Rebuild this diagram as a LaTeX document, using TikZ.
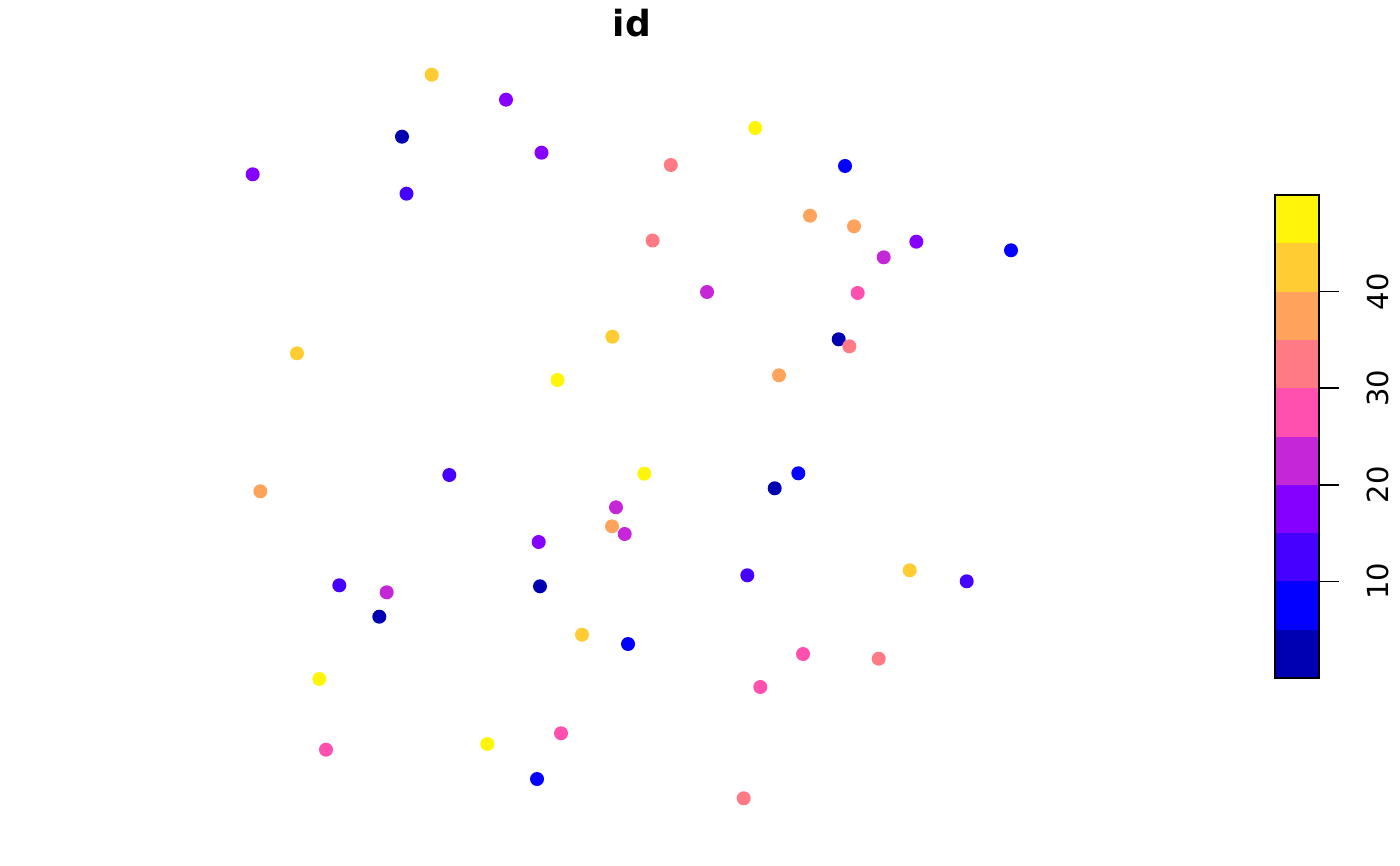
\documentclass[tikz,border=0pt]{standalone}
\usepackage{fontspec}
\setmainfont{DejaVu Sans}
\usepackage{tikz}
\definecolor{CNavy}{HTML}{0000B3}
\definecolor{CBlue}{HTML}{0400FF}
\definecolor{CIndigo}{HTML}{4500FF}
\definecolor{CPurple}{HTML}{8500FF}
\definecolor{CMagenta}{HTML}{C527D8}
\definecolor{CPink}{HTML}{FF50AF}
\definecolor{CSalmon}{HTML}{FF7A85}
\definecolor{COrange}{HTML}{FFA35C}
\definecolor{CGold}{HTML}{FFCC33}
\definecolor{CYellow}{HTML}{FFF50A}

\begin{document}
\begin{tikzpicture}[
    x=1pt, y=-1pt,
    pt/.style={fill=#1},
    ticklabel/.style={rotate=90, anchor=base, font=\fontsize{29}{32}\selectfont},
    title/.style={anchor=base, font=\fontsize{36}{40}\selectfont\bfseries}
]
  \useasboundingbox (0,0) rectangle (1400,866);
  \node[title] (title) at (632,37) {id};
  % points
  \foreach \px/\py/\c in {
      431.7/74.7/CGold, 506/99.7/CPurple, 402/136.7/CNavy, 541.5/152.7/CPurple,
      755.2/128/CYellow, 670.8/165/CSalmon, 845/166/CBlue, 252.7/174.3/CPurple,
      406.5/193.7/CIndigo, 810/215.7/COrange, 854/226.3/COrange, 652.6/240.5/CSalmon,
      916.3/241.7/CPurple, 1011/250.3/CBlue, 883.7/257.3/CMagenta, 707/292/CMagenta,
      857.7/293/CPink, 612.3/336.7/CGold, 838.7/339.3/CNavy, 849.3/346.3/CSalmon,
      297/353.3/CGold, 557.5/380/CYellow, 779/375.3/COrange, 449.3/475/CIndigo,
      644.3/473.7/CYellow, 798.3/473.3/CBlue, 774.7/488.3/CNavy, 260.3/491.3/COrange,
      616/507.3/CMagenta, 612/526.3/COrange, 624.7/534/CMagenta, 538.7/542/CPurple,
      747.3/575.3/CIndigo, 909.7/570.3/CGold, 966.7/581.3/CIndigo, 339.3/585.3/CIndigo,
      386.7/592.3/CMagenta, 540/586.3/CNavy, 379.3/616.7/CNavy, 582/634.7/CGold,
      628/644/CBlue, 319.3/679/CYellow, 803/654/CPink, 878.7/658.7/CSalmon,
      760.3/687/CPink, 561/733.3/CPink, 487.3/744/CYellow, 326/749.7/CPink,
      537/779/CBlue, 743.7/798.3/CSalmon}
    \fill[pt=\c] (\px,\py) circle (7pt);
  % key
  \foreach \c [count=\i from 0] in {CNavy, CBlue, CIndigo, CPurple, CMagenta,
      CPink, CSalmon, COrange, CGold, CYellow}
    \fill[\c] (1275,{678-48.3*\i}) rectangle (1319,{678-48.3*(\i+1)});
  \draw[line width=1.4pt] (1275,195) rectangle (1319,678);
  \foreach \v in {10,20,30,40} {
    \draw[line width=1.4pt] (1319,{678-9.66*\v}) -- (1339,{678-9.66*\v});
    \node[ticklabel] (lab\v) at (1388,{678-9.66*\v}) {\v};
  }
\end{tikzpicture}
\end{document}
